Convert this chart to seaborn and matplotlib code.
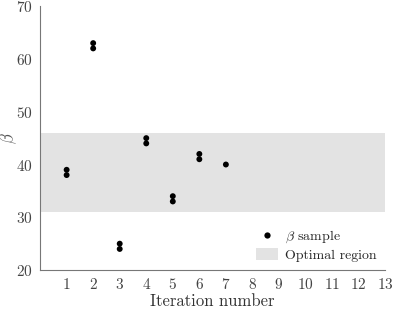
import matplotlib
matplotlib.use("Agg")
import matplotlib.pyplot as plt
import seaborn as sns
import pandas as pd
from matplotlib.patches import Patch
from matplotlib.lines import Line2D

iterations = [1, 1, 2, 2, 3, 3, 4, 4, 5, 5, 6, 6, 7]
beta_values = [38, 39, 62, 63, 24, 25, 44, 45, 33, 34, 41, 42, 40]
optimal_low, optimal_high = 31, 46
x_ticks = list(range(1, 14))
y_ticks = [20, 30, 40, 50, 60, 70]

sns.set_style("white")
plt.rcParams['font.family'] = ['cmr10', 'DejaVu Serif']
plt.rcParams['mathtext.fontset'] = 'cm'
plt.rcParams['axes.formatter.use_mathtext'] = True

df = pd.DataFrame({"Iteration": iterations, "beta": beta_values})

fig = plt.figure(figsize=(3.93, 3.09), dpi=100)
ax = fig.add_axes([0.102, 0.126, 0.878, 0.854])

ax.axhspan(optimal_low, optimal_high, color="#e3e3e3", lw=0, zorder=0)
sns.scatterplot(data=df, x="Iteration", y="beta", ax=ax, color="black",
                s=18, edgecolor="none", zorder=3, legend=False)

ax.set_xlim(0, 13)
ax.set_ylim(20, 70)
ax.set_xticks(x_ticks)
ax.set_yticks(y_ticks)
ax.set_xlabel("Iteration number", fontsize=12, color="#333333", labelpad=1)
ax.set_ylabel(r"$\beta$", fontsize=12, color="#555555")
ax.yaxis.set_label_coords(-0.06, 0.5)
for s in ["top", "right"]:
    ax.spines[s].set_visible(False)
for s in ["left", "bottom"]:
    ax.spines[s].set_color("#777777")
    ax.spines[s].set_linewidth(0.8)
ax.tick_params(direction="in", length=4, width=0.6, color="#999999",
               labelsize=11, labelcolor="#444444", pad=5)

handles = [Line2D([0], [0], marker="o", color="none", markerfacecolor="black",
                  markeredgecolor="none", markersize=4.5),
           Patch(facecolor="#e3e3e3", edgecolor="none")]
labels = [r"$\beta$ sample", "Optimal region"]
ax.legend(handles, labels, loc="lower right", frameon=False, fontsize=10,
          bbox_to_anchor=(1.0, 0.0), handlelength=1.6, handleheight=0.9,
          handletextpad=0.5, labelspacing=0.2, borderaxespad=0.2)

fig.savefig("out.png", dpi=100)
